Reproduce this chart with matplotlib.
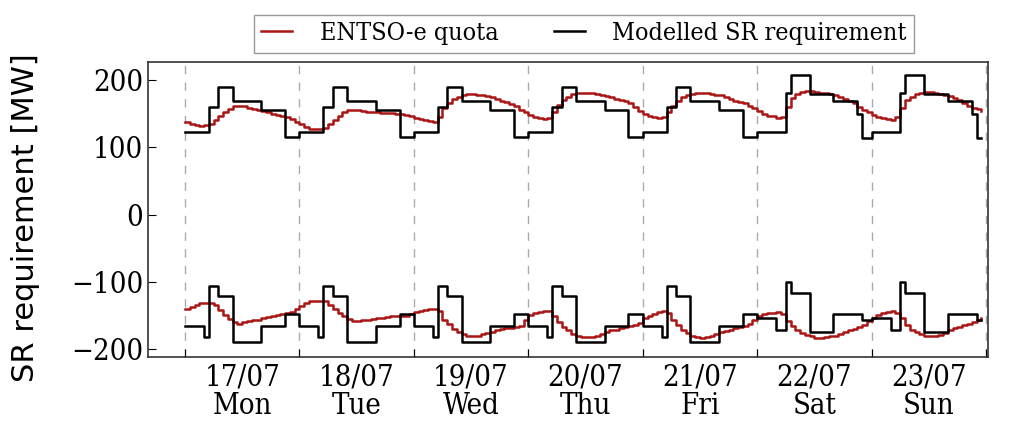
import numpy as np
import matplotlib.pyplot as plt

# x tick labels, one per day
day_labels = ['17/07\nMon', '18/07\nTue', '19/07\nWed', '20/07\nThu',
              '21/07\nFri', '22/07\nSat', '23/07\nSun']
weekend = [False, False, False, False, False, True, True]

# ENTSO-e quota, hourly values [MW]
entsoe_up = [
    137, 135, 133, 132, 133, 135, 140, 147, 152, 157, 161, 162, 161, 159, 157, 155, 154, 152, 150, 148, 147, 145, 142, 138,
    134, 130, 127, 127, 127, 129, 135, 141, 147, 152, 156, 156, 155, 154, 153, 152, 152, 151, 151, 151, 150, 150, 148, 146,
    144, 142, 140, 139, 138, 145, 158, 165, 171, 175, 178, 179, 179, 178, 177, 176, 174, 172, 169, 167, 164, 161, 156, 152,
    148, 145, 144, 142, 143, 153, 163, 170, 175, 179, 180, 181, 181, 180, 179, 178, 176, 174, 172, 170, 168, 165, 160, 154,
    150, 147, 145, 144, 145, 153, 161, 169, 174, 177, 179, 180, 180, 180, 179, 178, 177, 175, 172, 169, 167, 165, 162, 158,
    154, 150, 147, 146, 143, 145, 160, 173, 179, 182, 183, 183, 182, 181, 180, 179, 177, 175, 172, 169, 165, 160, 155, 152,
    148, 145, 143, 142, 141, 145, 159, 170, 175, 179, 181, 182, 182, 181, 179, 178, 176, 173, 170, 165, 162, 159, 157, 154,
]
entsoe_down = [
    -141, -137, -134, -132, -131, -131, -135, -142, -149, -155, -160, -162, -160, -158, -157, -156, -154, -152, -150, -149, -147, -146, -145, -141,
    -136, -131, -129, -129, -128, -129, -135, -140, -146, -150, -155, -158, -158, -157, -156, -155, -154, -153, -152, -151, -151, -151, -150, -147,
    -145, -143, -142, -141, -140, -144, -156, -163, -170, -174, -177, -180, -181, -180, -178, -176, -174, -172, -170, -169, -168, -167, -165, -157,
    -149, -146, -145, -144, -144, -151, -159, -167, -172, -178, -181, -182, -182, -182, -180, -178, -174, -172, -171, -168, -167, -166, -164, -161,
    -153, -150, -147, -145, -144, -146, -156, -164, -171, -176, -180, -182, -183, -182, -180, -178, -175, -173, -171, -169, -167, -165, -162, -157,
    -150, -148, -146, -146, -145, -147, -158, -166, -171, -176, -179, -181, -183, -183, -182, -181, -180, -177, -175, -172, -170, -167, -164, -158,
    -153, -149, -146, -145, -144, -146, -154, -164, -171, -175, -178, -180, -181, -181, -179, -176, -172, -169, -167, -164, -162, -159, -156, -154,
]

# modelled SR requirement: daily block profiles (value, block length in hours)
sr_up_weekday = [122, 160, 190, 168, 155, 115]
sr_up_weekday_len = [5, 2, 3, 6, 5, 3]
sr_up_weekend = [122, 181, 207, 179, 168, 150, 113]
sr_up_weekend_len = [6, 1, 4, 5, 5, 1, 2]
sr_down_weekday = [-165, -182, -106, -121, -190, -165, -148]
sr_down_weekday_len = [4, 1, 2, 3, 6, 5, 3]
sr_down_weekend = [-154, -172, -100, -117, -175, -147, -157]
sr_down_weekend_len = [4, 2, 1, 4, 5, 6, 2]


def week_series(wd_vals, wd_len, we_vals, we_len):
    parts = []
    for we in weekend:
        if we:
            parts.append(np.repeat(we_vals, we_len))
        else:
            parts.append(np.repeat(wd_vals, wd_len))
    return np.concatenate(parts)


model_up = week_series(sr_up_weekday, sr_up_weekday_len, sr_up_weekend, sr_up_weekend_len)
model_down = week_series(sr_down_weekday, sr_down_weekday_len, sr_down_weekend, sr_down_weekend_len)
hours = np.arange(len(entsoe_up))

plt.rcParams['font.family'] = 'DejaVu Serif'
plt.rcParams['font.stretch'] = 'condensed'

fig = plt.figure(figsize=(10.09, 4.23), dpi=100)
ax = fig.add_axes([0.1467, 0.157, 0.832, 0.697])

red = '#aa1515'
ax.step(hours, entsoe_up, where='post', color=red, lw=1.8, label='ENTSO-e quota')
ax.step(hours, entsoe_down, where='post', color=red, lw=1.8)
ax.step(hours, model_up, where='post', color='black', lw=1.8, label='Modelled SR requirement')
ax.step(hours, model_down, where='post', color='black', lw=1.8)

ax.set_xlim(-7.75, 168.3)
ax.set_ylim(-211, 227)
ax.set_yticks([-200, -100, 0, 100, 200])

ax.set_xticks(np.arange(0, 169, 24))
ax.set_xticklabels([])
ax.set_xticks(np.arange(12, 168, 24), minor=True)
ax.set_xticklabels(day_labels, minor=True, linespacing=1.0)
ax.tick_params(axis='x', which='minor', length=0, pad=5, labelsize=21)
ax.tick_params(axis='x', which='major', direction='in', length=6, top=False)
ax.tick_params(axis='y', direction='in', length=6, labelsize=21, right=False)
ax.grid(axis='x', which='major', color='#aaaaaa', linestyle=(0, (6, 6)), lw=1)

for sp in ax.spines.values():
    sp.set_color('#333333')
    sp.set_linewidth(1.2)

ax.set_ylabel('SR requirement [MW]', family='DejaVu Sans', stretch='normal', fontsize=22)
ax.yaxis.label.set_va('center')
ax.yaxis.set_label_coords(-0.146, 0.47)

fig.legend(loc='center', bbox_to_anchor=(584 / 1009, 1 - 33.5 / 423), ncol=2,
           fontsize=18, fancybox=False, edgecolor='#999999', framealpha=1,
           handlelength=1.25, handletextpad=1.1, columnspacing=2.2, borderpad=0.3)

fig.savefig('out.png', dpi=100)
